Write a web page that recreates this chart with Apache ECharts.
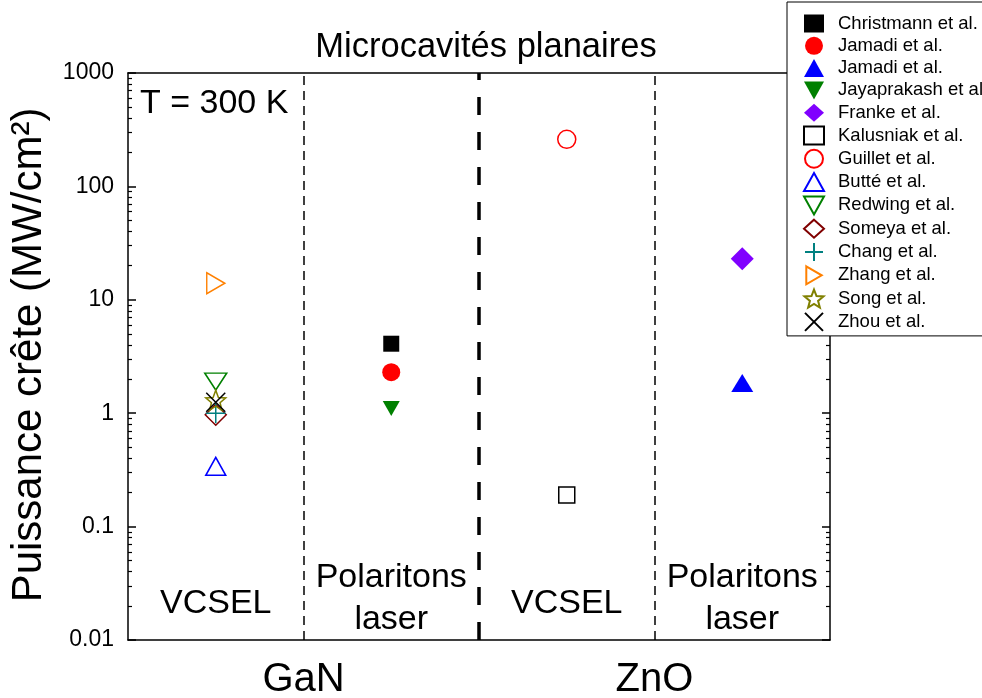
<!DOCTYPE html>
<html><head><meta charset="utf-8">
<script src="https://cdn.jsdelivr.net/npm/echarts@6/dist/echarts.min.js"></script>
<style>html,body{margin:0;padding:0;background:#fff}#c{width:982px;height:698px}</style>
</head><body><div id="c"></div>
<script>
// ---------- data ----------
const categories = ['VCSEL', 'Polaritons laser', 'VCSEL', 'Polaritons laser'];
const materials = ['GaN', 'ZnO'];
const yTickLabels = [0.01, 0.1, 1, 10, 100, 1000];
const seriesNames = ['Christmann et al.', 'Jamadi et al.', 'Jamadi et al.\u200b', 'Jayaprakash et al.',
  'Franke et al.', 'Kalusniak et al.', 'Guillet et al.', 'Butté et al.', 'Redwing et al.',
  'Someya et al.', 'Chang et al.', 'Zhang et al.', 'Song et al.', 'Zhou et al.'];
// one value per category (GaN VCSEL, GaN polaritons, ZnO VCSEL, ZnO polaritons)
const christmann  = [null, 4.1, null, null];
const jamadiCirc  = [null, 2.3, null, null];
const jamadiTri   = [null, null, null, 1.85];
const jayaprakash = [null, 1.1, null, null];
const franke      = [null, null, null, 23];
const kalusniak   = [null, null, 0.19, null];
const guillet     = [null, null, 260, null];
const butte       = [0.34, null, null, null];
const redwing     = [1.9, null, null, null];
const someya      = [0.97, null, null, null];
const chang       = [1.0, null, null, null];
const zhang       = [14, null, null, null];
const song        = [1.3, null, null, null];
const zhou        = [1.25, null, null, null];
const seriesValues = [christmann, jamadiCirc, jamadiTri, jayaprakash, franke, kalusniak, guillet,
  butte, redwing, someya, chang, zhang, song, zhou];

// ---------- styles ----------
function starPath() {
  const pts = [];
  for (let k = 0; k < 10; k++) {
    const a = (-90 + k * 36) * Math.PI / 180, r = k % 2 ? 4.3 : 10;
    pts.push((10 + r * Math.cos(a)).toFixed(3) + ',' + (10 + r * Math.sin(a)).toFixed(3));
  }
  return 'path://M' + pts.join('L') + 'Z';
}
const NONE = 'rgba(0,0,0,0)';
const downTri = 'path://M0,0L20,0L10,18Z';
const styles = [
  {symbol: 'rect', size: 16, fill: '#000000', stroke: '#000000', bw: 0},
  {symbol: 'circle', size: 18, fill: '#ff0000', stroke: '#ff0000', bw: 0},
  {symbol: 'triangle', size: [22, 18], fill: '#0000ff', stroke: '#0000ff', bw: 0},
  {symbol: downTri, size: [17, 15], fill: '#008000', stroke: '#008000', bw: 0},
  {symbol: 'diamond', size: 23, fill: '#8000ff', stroke: '#8000ff', bw: 0},
  {symbol: 'rect', size: 16, fill: NONE, stroke: '#000000', bw: 1.5},
  {symbol: 'circle', size: 18, fill: NONE, stroke: '#ff0000', bw: 1.5},
  {symbol: 'triangle', size: [20, 18], fill: NONE, stroke: '#0000ff', bw: 1.5},
  {symbol: downTri, size: [22, 17], fill: NONE, stroke: '#008000', bw: 1.5},
  {symbol: 'diamond', size: 21, fill: NONE, stroke: '#800000', bw: 1.5},
  {symbol: 'path://M10,0L10,20M0,10L20,10', size: 20, fill: NONE, stroke: '#008080', bw: 1.5},
  {symbol: 'path://M0,0L18,10.5L0,21Z', size: [18, 21], fill: NONE, stroke: '#ff8000', bw: 1.5},
  {symbol: starPath(), size: 20, fill: NONE, stroke: '#808000', bw: 1.5},
  {symbol: 'path://M0,0L20,20M20,0L0,20', size: 19, fill: NONE, stroke: '#000000', bw: 1.5}
];

const FONT = '"Liberation Sans", Arial, sans-serif';
const minorTicks = [];
for (let i = 0; i < yTickLabels.length - 1; i++) for (let k = 2; k <= 9; k++) minorTicks.push(+(yTickLabels[i] * k).toPrecision(3));

function yAx(pos, major) {
  return {
    type: 'log', logBase: 10, min: 0.01, max: 1000, position: pos,
    axisLine: {show: major, lineStyle: {color: '#000', width: 1.5}},
    axisTick: major ? {show: true, inside: true, length: 8, lineStyle: {color: '#000', width: 1.5}}
                    : {show: true, inside: true, length: 4, customValues: minorTicks, lineStyle: {color: '#000', width: 1.2}},
    axisLabel: (major && pos === 'left') ? {show: true, fontSize: 23, fontFamily: FONT, color: '#000', margin: 14,
      formatter: v => String(+(+v).toPrecision(3))} : {show: false},
    splitLine: {show: false}
  };
}
function xAx(pos) {
  return {type: 'value', min: 0, max: 4, position: pos,
    axisLine: {show: true, onZero: false, lineStyle: {color: '#000', width: 1.5}},
    axisTick: {show: false}, axisLabel: {show: false}, splitLine: {show: false}};
}

const series = seriesNames.map((name, si) => {
  const st = styles[si];
  const s = {
    name, type: 'scatter', xAxisIndex: 0, yAxisIndex: 0,
    data: seriesValues[si].map((v, i) => v == null ? null : [i + 0.5, v]).filter(d => d),
    symbol: st.symbol, symbolSize: st.size,
    itemStyle: {color: st.fill, borderColor: st.stroke, borderWidth: st.bw, opacity: 1},
    emphasis: {disabled: true}, z: 3
  };
  if (si === 0) {
    s.markLine = {
      silent: true, symbol: ['none', 'none'], label: {show: false}, animation: false,
      data: [
        {xAxis: 1, lineStyle: {color: '#000', width: 1.5, type: [9, 6]}},
        {xAxis: 2, lineStyle: {color: '#000', width: 3.5, type: [18, 17]}},
        {xAxis: 3, lineStyle: {color: '#000', width: 1.5, type: [9, 6]}}
      ]
    };
  }
  return s;
});

const chart = echarts.init(document.getElementById('c'), null, {renderer: 'canvas'});
const option = {
  animation: false,
  backgroundColor: '#fff',
  title: {text: 'Microcavités planaires', left: 481, top: 25, textAlign: 'center',
    textStyle: {fontSize: 34.5, fontWeight: 'normal', fontFamily: FONT, color: '#000'}},
  grid: {left: 128, right: 152, top: 73, bottom: 58, containLabel: false},
  xAxis: [xAx('bottom'), xAx('top')],
  yAxis: [yAx('left', true), yAx('left', false), yAx('right', true), yAx('right', false)],
  legend: {
    orient: 'vertical', left: 787, top: 2, z: 10,
    data: seriesNames, itemWidth: 20, itemHeight: 18, itemGap: 3.3,
    padding: [12, 8, 4, 16], borderColor: '#000', borderWidth: 1, backgroundColor: '#fff',
    textStyle: {fontSize: 18.5, fontFamily: FONT, color: '#000', lineHeight: 18, padding: [0, 0, 0, 9]},
    selectedMode: false
  },
  series
};
chart.setOption(option);

const px = x => chart.convertToPixel({xAxisIndex: 0}, x);
const lbl = (text, x, y, size, extra) => Object.assign({type: 'text', x, y, silent: true,
  style: {text, fontSize: size, fontFamily: FONT, fill: '#000', textAlign: 'center', textVerticalAlign: 'middle'}}, extra || {});
const g = [];
categories.forEach((c, i) => {
  const x = px(i + 0.5);
  if (c === 'VCSEL') g.push(lbl(c, x, 604, 34));
  else { const w = c.split(' '); g.push(lbl(w[0], x, 578, 34)); g.push(lbl(w[1], x, 620, 34)); }
});
materials.forEach((m, i) => g.push(lbl(m, px(1 + 2 * i), 680, 40)));
g.push(lbl('T = 300 K', 140, 104, 34, {style: {text: 'T = 300 K', fontSize: 34, fontFamily: FONT, fill: '#000', textAlign: 'left', textVerticalAlign: 'middle'}}));
g.push(lbl('Puissance crête (MW/cm²)', 29, 355, 42, {rotation: Math.PI / 2}));
chart.setOption({graphic: g});
</script></body></html>
